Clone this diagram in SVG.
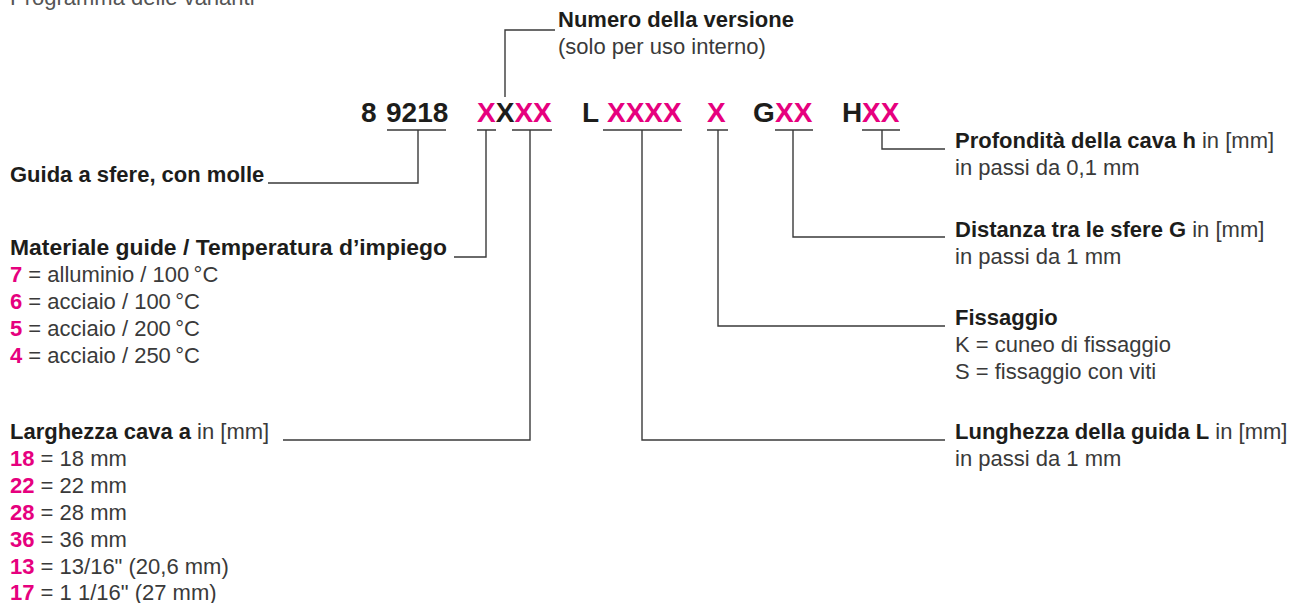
<svg xmlns="http://www.w3.org/2000/svg" width="1295" height="603" viewBox="0 0 1295 603">
<style>
text{font-family:"Liberation Sans",Arial,sans-serif;font-size:22px;fill:#3a3a3a}
.b{font-weight:bold;fill:#1d1d1b}
.p{font-weight:bold;fill:#e6007e}
.code{font-size:28px;font-weight:bold;fill:#1d1d1b}
.title{fill:#555}
.ln{fill:none;stroke:#3a3a3a;stroke-width:1.4}
</style>
<rect width="1295" height="603" fill="#fff"/>
<text class="title" x="10" y="5">Programma delle varianti</text>

<g id="code">
<text class="code" y="122"><tspan x="361">8</tspan><tspan x="386">9218</tspan><tspan x="477" class="p">X</tspan><tspan x="495.7">X</tspan><tspan x="514.4" class="p">XX</tspan><tspan x="582">L</tspan><tspan x="607" class="p">XXXX</tspan><tspan x="707" class="p">X</tspan><tspan x="753">G</tspan><tspan x="775" class="p">XX</tspan><tspan x="842">H</tspan><tspan x="862" class="p">XX</tspan></text>
</g>

<g id="connectors" class="ln">
<path d="M387 130H446M477 130H496M512 130H552M603 130H682M707 130H728M775 130H813M862 130H900"/>
<path d="M505 97V30H555"/>
<path d="M418 130V183H268"/>
<path d="M486 130V257H454"/>
<path d="M530 130V440H283"/>
<path d="M642 130V440H945"/>
<path d="M718 130V326H945"/>
<path d="M793 130V237H945"/>
<path d="M882 130V149H945"/>
</g>

<g id="versione">
<text class="b" x="558" y="27">Numero della versione</text>
<text x="558" y="54">(solo per uso interno)</text>
</g>

<g id="guida">
<text class="b" x="10" y="182">Guida a sfere, con molle</text>
</g>

<g id="materiale">
<text class="b" x="10" y="255" textLength="437" lengthAdjust="spacingAndGlyphs">Materiale guide / Temperatura d’impiego</text>
<text x="10" y="282"><tspan class="p">7</tspan> = alluminio / 100&#8201;°C</text>
<text x="10" y="309"><tspan class="p">6</tspan> = acciaio / 100&#8201;°C</text>
<text x="10" y="336"><tspan class="p">5</tspan> = acciaio / 200&#8201;°C</text>
<text x="10" y="363"><tspan class="p">4</tspan> = acciaio / 250&#8201;°C</text>
</g>

<g id="larghezza">
<text x="10" y="439"><tspan class="b">Larghezza cava a</tspan> in [mm]</text>
<text x="10" y="466"><tspan class="p">18</tspan> = 18 mm</text>
<text x="10" y="493"><tspan class="p">22</tspan> = 22 mm</text>
<text x="10" y="520"><tspan class="p">28</tspan> = 28 mm</text>
<text x="10" y="547"><tspan class="p">36</tspan> = 36 mm</text>
<text x="10" y="574"><tspan class="p">13</tspan> = 13/16" (20,6 mm)</text>
<text x="10" y="600"><tspan class="p">17</tspan> = 1 1/16" (27 mm)</text>
</g>

<g id="profondita">
<text x="955" y="148"><tspan class="b">Profondità della cava h</tspan> in [mm]</text>
<text x="955" y="175">in passi da 0,1 mm</text>
</g>

<g id="distanza">
<text x="955" y="237"><tspan class="b">Distanza tra le sfere G</tspan> in [mm]</text>
<text x="955" y="264">in passi da 1 mm</text>
</g>

<g id="fissaggio">
<text class="b" x="955" y="325">Fissaggio</text>
<text x="955" y="352">K = cuneo di fissaggio</text>
<text x="955" y="379">S = fissaggio con viti</text>
</g>

<g id="lunghezza">
<text x="955" y="439"><tspan class="b">Lunghezza della guida L</tspan> in [mm]</text>
<text x="955" y="466">in passi da 1 mm</text>
</g>
</svg>
